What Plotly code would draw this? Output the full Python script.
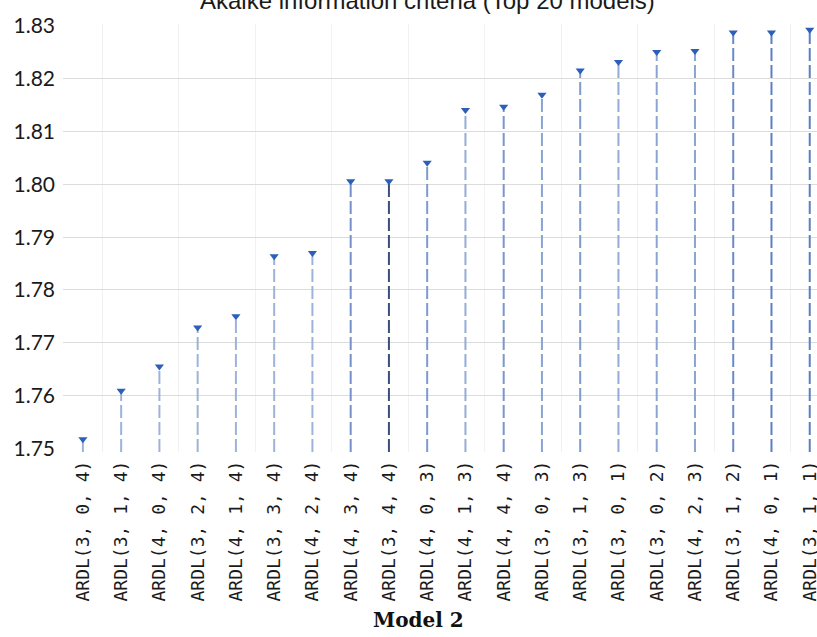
import plotly.graph_objects as go

# Top 20 ARDL specifications ranked by Akaike information criterion
models = [
    "ARDL(3, 0, 4)", "ARDL(3, 1, 4)", "ARDL(4, 0, 4)", "ARDL(3, 2, 4)",
    "ARDL(4, 1, 4)", "ARDL(3, 3, 4)", "ARDL(4, 2, 4)", "ARDL(4, 3, 4)",
    "ARDL(3, 4, 4)", "ARDL(4, 0, 3)", "ARDL(4, 1, 3)", "ARDL(4, 4, 4)",
    "ARDL(3, 0, 3)", "ARDL(3, 1, 3)", "ARDL(3, 0, 1)", "ARDL(3, 0, 2)",
    "ARDL(4, 2, 3)", "ARDL(3, 1, 2)", "ARDL(4, 0, 1)", "ARDL(3, 1, 1)",
]
aic = [
    1.7517, 1.7609, 1.7655, 1.7729, 1.7750, 1.7864, 1.7870, 1.8006,
    1.8006, 1.8041, 1.8141, 1.8147, 1.8170, 1.8216, 1.8232, 1.8251,
    1.8253, 1.8288, 1.8288, 1.8293,
]
y_ticks = [1.75, 1.76, 1.77, 1.78, 1.79, 1.80, 1.81, 1.82, 1.83]

Y_MIN, Y_MAX = 1.7493, 1.8304
X_MIN, X_MAX = -0.52, 19.19

# stem shades (anti-aliased look of the original drop lines)
stem_colors = (["#9db3da"] * 7 + ["#7592c8", "#3a4f7a", "#7e9bcd"]
               + ["#94acd6", "#7a97cb", "#8aa4d2", "#7f9bcc", "#93abd5",
                  "#8ba5d2", "#8aa4d2", "#6b8bc6", "#5e80c0", "#5d7fc0"])

fig = go.Figure()

idx = list(range(len(models)))
for i, v in enumerate(aic):
    fig.add_trace(go.Scatter(
        x=[i, i], y=[Y_MIN, v], mode="lines",
        line=dict(color=stem_colors[i], width=2, dash="13px,4px"),
        hoverinfo="skip", showlegend=False, cliponaxis=False,
    ))

fig.add_trace(go.Scatter(
    x=idx, y=aic, mode="markers",
    marker=dict(symbol="triangle-down", size=8, color="#2c5fb9",
                line=dict(width=0)),
    showlegend=False, cliponaxis=False,
    hovertext=models, hovertemplate="%{hovertext}: %{y:.4f}<extra></extra>",
))

# invisible anchor for the grid-only overlay axes
fig.add_trace(go.Scatter(x=[None], y=[None], xaxis="x2", yaxis="y2",
                         showlegend=False, hoverinfo="skip"))

fig.update_layout(
    width=817, height=637,
    margin=dict(l=63, r=0, t=24, b=185, autoexpand=False),
    plot_bgcolor="white", paper_bgcolor="white",
    xaxis=dict(
        range=[X_MIN, X_MAX], tickmode="array", tickvals=idx, ticktext=models,
        tickangle=-90, showgrid=False, zeroline=False, showline=False,
        ticks="", ticklabelstandoff=4, automargin=False,
        ticklabeloverflow="allow",
        tickfont=dict(family="DejaVu Sans Mono", size=18, color="#1a1a1a"),
    ),
    yaxis=dict(
        range=[Y_MIN, Y_MAX], tickmode="array", tickvals=y_ticks,
        ticktext=[f"{t:.2f}" for t in y_ticks],
        showgrid=False, zeroline=False, showline=False, ticks="",
        ticklabelstandoff=7, automargin=False,
        tickfont=dict(family="Lato", size=21, color="#1a1a1a"),
    ),
    xaxis2=dict(
        overlaying="x", range=[X_MIN, X_MAX], tickmode="array",
        tickvals=[i + 0.5 for i in range(0, len(models), 2)],
        showticklabels=False, showgrid=True, gridcolor="#f1f1f1",
        gridwidth=1, zeroline=False, showline=False, ticks="",
    ),
    yaxis2=dict(
        overlaying="y", range=[Y_MIN, Y_MAX], tickmode="array",
        tickvals=y_ticks[1:-1], showticklabels=False, showgrid=True,
        gridcolor="#dcdcdc", gridwidth=1, zeroline=False, showline=False,
        ticks="",
    ),
)

fig.add_annotation(
    text="Akaike information criteria (Top 20 models)",
    xref="paper", yref="paper", x=0.483, y=1, xanchor="center",
    yanchor="middle", yshift=24, showarrow=False,
    font=dict(family="Liberation Sans", size=24, color="#1a1a1a"),
)
fig.add_annotation(
    text="<b>Model 2</b>",
    xref="paper", yref="paper", x=0.472, y=0, xanchor="center",
    yanchor="middle", yshift=-168, showarrow=False,
    font=dict(family="DejaVu Serif", size=20, color="#111111"),
)

fig.write_html("out.html")
